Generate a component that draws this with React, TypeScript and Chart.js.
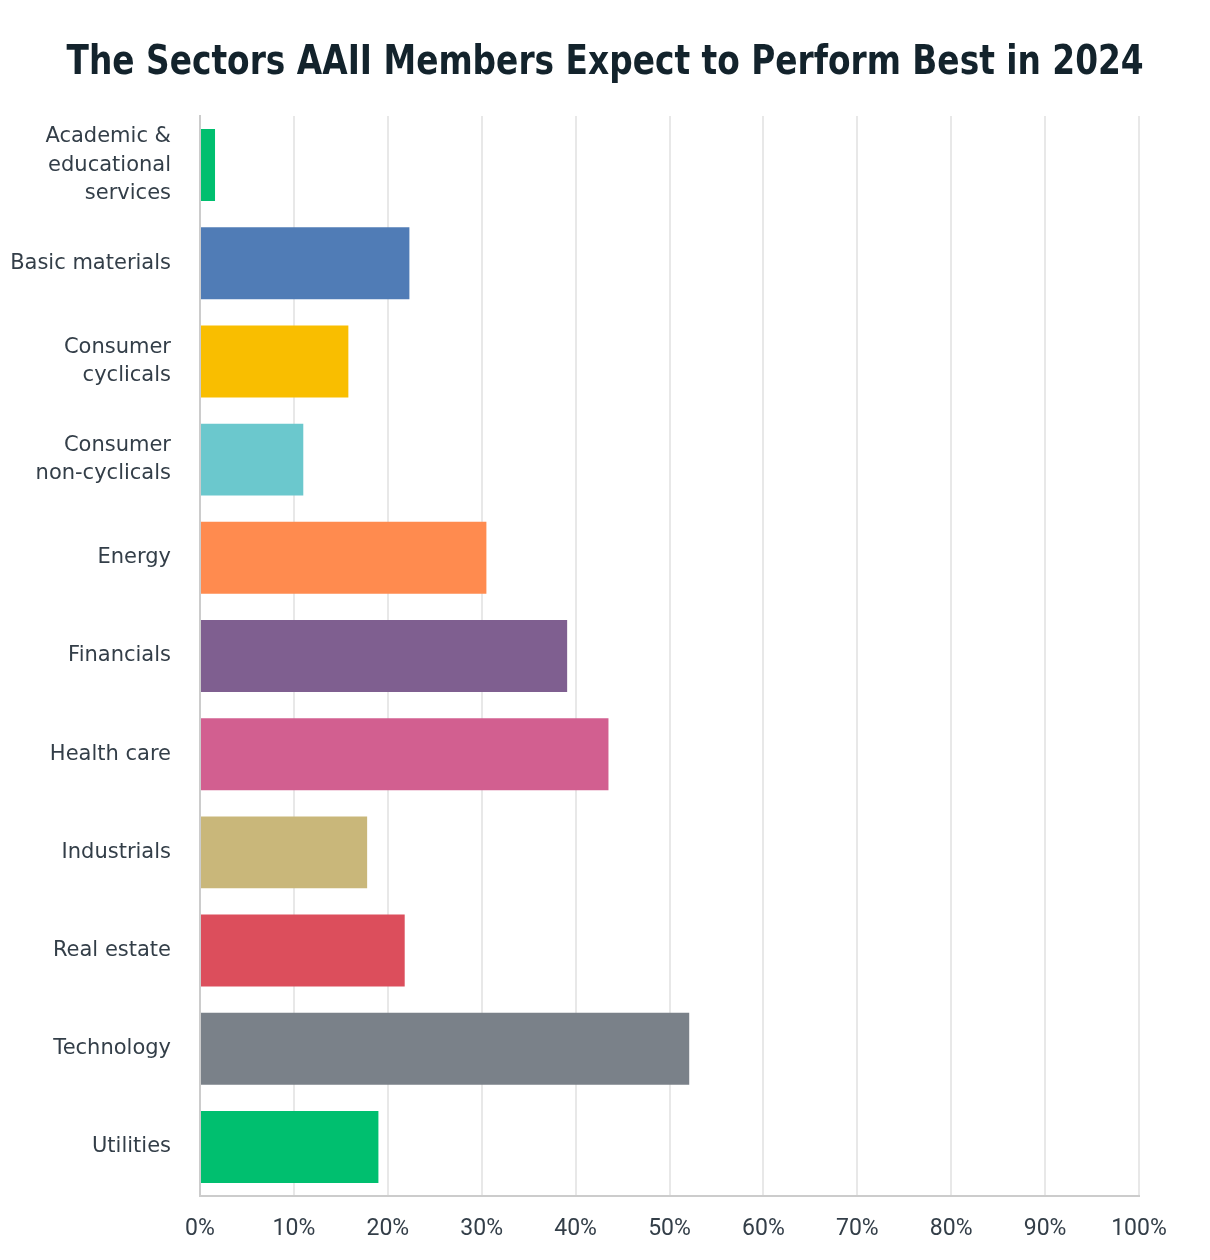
import React, { useEffect, useRef } from 'react';
import { Chart, registerables } from 'chart.js';

Chart.register(...registerables);

const title = 'The Sectors AAII Members Expect to Perform Best in 2024';

const sectors: (string | string[])[] = [
    ['Academic &', 'educational', 'services'],
    'Basic materials',
    ['Consumer', 'cyclicals'],
    ['Consumer', 'non-cyclicals'],
    'Energy',
    'Financials',
    'Health care',
    'Industrials',
    'Real estate',
    'Technology',
    'Utilities',
];

const percentages = [1.6, 22.3, 15.8, 11.0, 30.5, 39.1, 43.5, 17.8, 21.8, 52.1, 19.0];

const barColors = [
    '#00bf6f', '#507cb6', '#f9be00', '#6bc8cd', '#ff8b4f', '#7f5f90',
    '#d25f90', '#c9b77a', '#dc4e5c', '#7a8189', '#00bf6f',
];

const xTicks = [0, 10, 20, 30, 40, 50, 60, 70, 80, 90, 100];

const textColor = '#333e48';

const App: React.FC = () => {
    const chartRef = useRef<HTMLCanvasElement>(null);

    useEffect(() => {
        const ctx = chartRef.current?.getContext('2d');
        if (!ctx) return;
        const chart = new Chart(ctx, {
            type: 'bar',
            data: {
                labels: sectors,
                datasets: [
                    {
                        data: percentages,
                        backgroundColor: barColors,
                        borderWidth: 0,
                        barPercentage: 0.733,
                        categoryPercentage: 1,
                    },
                ],
            },
            options: {
                indexAxis: 'y',
                animation: false,
                responsive: true,
                maintainAspectRatio: false,
                layout: { padding: { left: 0, right: 71, top: 116, bottom: 0 } },
                plugins: {
                    legend: { display: false },
                    tooltip: { enabled: false },
                },
                scales: {
                    x: {
                        min: 0,
                        max: 100,
                        afterBuildTicks: (scale) => {
                            scale.ticks = xTicks.map((v) => ({ value: v }));
                        },
                        afterFit: (scale) => {
                            scale.height = 64;
                        },
                        grid: { color: '#e8e8e8', lineWidth: 2, drawTicks: false },
                        border: { color: '#cccccc', width: 2 },
                        ticks: {
                            color: textColor,
                            padding: 19,
                            maxRotation: 0,
                            autoSkip: false,
                            font: { family: '"Roboto", "Noto Sans", sans-serif', size: 23 },
                            callback: (v) => v + '%',
                        },
                    },
                    y: {
                        afterFit: (scale: any) => {
                            scale.width = 200;
                            // the 3-line first label would otherwise push the plot up
                            scale.paddingTop = 0;
                            scale.paddingBottom = 0;
                        },
                        grid: { display: false, drawTicks: false },
                        border: { color: '#cccccc', width: 2 },
                        ticks: {
                            color: textColor,
                            padding: 29,
                            autoSkip: false,
                            font: { family: '"DejaVu Sans", sans-serif', size: 21, lineHeight: 1.37 },
                        },
                    },
                },
            },
        });
        return () => chart.destroy();
    }, []);

    return (
        <div style={{ position: 'absolute', left: 0, top: 0, width: 1210, height: 1260, background: '#fff' }}>
            <canvas ref={chartRef}></canvas>
            <div
                style={{
                    position: 'absolute',
                    left: 0,
                    top: 40,
                    width: 1204,
                    textAlign: 'center',
                    whiteSpace: 'nowrap',
                }}
            >
                <span
                    style={{
                        display: 'inline-block',
                        transform: 'scaleX(0.89)',
                        transformOrigin: 'center',
                        fontFamily: '"DejaVu Sans Condensed", sans-serif',
                        fontWeight: 'bold',
                        fontSize: 41,
                        lineHeight: '41px',
                        color: '#13232c',
                    }}
                >
                    {title}
                </span>
            </div>
        </div>
    );
};

export default App;
